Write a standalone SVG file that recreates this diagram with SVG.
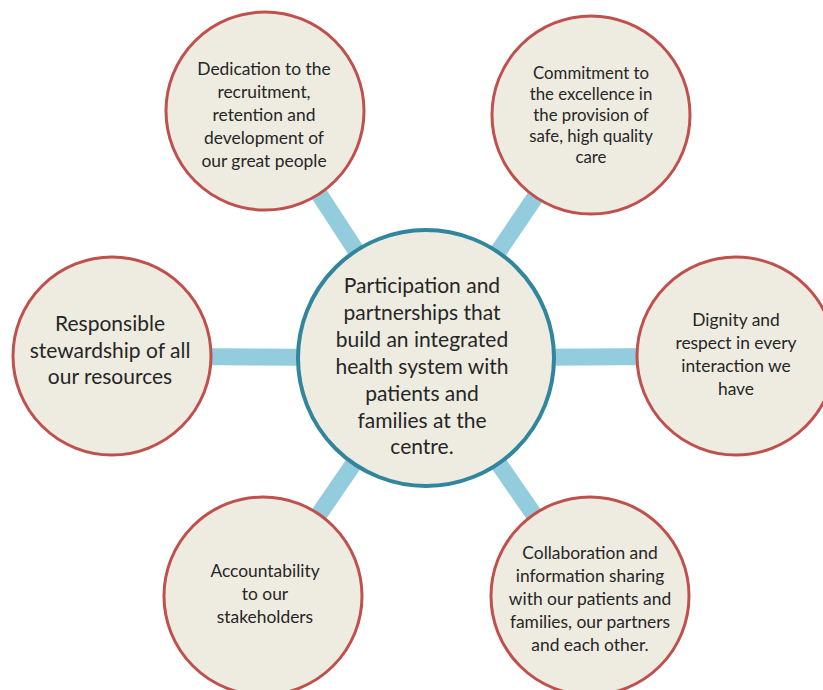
<svg xmlns="http://www.w3.org/2000/svg" width="823" height="690" viewBox="0 0 823 690">
<style>
.c{fill:#EEECE1;stroke:#C0504D;stroke-width:3}
.m{fill:#EEECE1;stroke:#31859C;stroke-width:4}
.k{stroke:#93CDDD;stroke-width:17;fill:none}
text{font-family:Lato,"Open Sans",sans-serif;fill:#262626;text-anchor:middle}
.s{font-size:17.4px}
.t{font-size:16.8px}
.l{font-size:21px}
</style>
<rect width="823" height="690" fill="#FFFFFF"/>
<g id="connectors">
<line class="k" x1="426" y1="358" x2="265" y2="111"/>
<line class="k" x1="426" y1="358" x2="591" y2="115"/>
<line class="k" x1="426" y1="358" x2="112" y2="356"/>
<line class="k" x1="426" y1="358" x2="736" y2="356"/>
<line class="k" x1="426" y1="358" x2="263" y2="596"/>
<line class="k" x1="426" y1="358" x2="590" y2="596"/>
</g>
<g id="node-dedication">
<circle class="c" cx="265" cy="111" r="99"/>
<text class="s" x="264"><tspan x="264" y="75">Dedication to the</tspan><tspan x="264" y="98">recruitment,</tspan><tspan x="264" y="121">retention and</tspan><tspan x="264" y="144">development of</tspan><tspan x="264" y="167">our great people</tspan></text>
</g>
<g id="node-commitment">
<circle class="c" cx="591" cy="115" r="99"/>
<text class="t" x="591"><tspan x="591" y="79">Commitment to</tspan><tspan x="591" y="100">the excellence in</tspan><tspan x="591" y="121">the provision of</tspan><tspan x="591" y="142">safe, high quality</tspan><tspan x="591" y="163">care</tspan></text>
</g>
<g id="node-stewardship">
<circle class="c" cx="112" cy="356" r="99"/>
<text class="l" x="110"><tspan x="110" y="331">Responsible</tspan><tspan x="110" y="357.5">stewardship of all</tspan><tspan x="110" y="384">our resources</tspan></text>
</g>
<g id="node-dignity">
<circle class="c" cx="736" cy="356" r="99"/>
<text class="s" x="736"><tspan x="736" y="326">Dignity and</tspan><tspan x="736" y="349">respect in every</tspan><tspan x="736" y="372">interaction we</tspan><tspan x="736" y="395">have</tspan></text>
</g>
<g id="node-accountability">
<circle class="c" cx="263" cy="596" r="99"/>
<text class="s" x="265"><tspan x="265" y="577">Accountability</tspan><tspan x="265" y="600">to our</tspan><tspan x="265" y="623">stakeholders</tspan></text>
</g>
<g id="node-collaboration">
<circle class="c" cx="590" cy="596" r="99"/>
<text class="s" x="590"><tspan x="590" y="559">Collaboration and</tspan><tspan x="590" y="582">information sharing</tspan><tspan x="590" y="605">with our patients and</tspan><tspan x="590" y="628">families, our partners</tspan><tspan x="590" y="651">and each other.</tspan></text>
</g>
<g id="node-participation">
<circle class="m" cx="426" cy="358" r="128"/>
<text class="l" x="422"><tspan x="422" y="293">Participation and</tspan><tspan x="422" y="320">partnerships that</tspan><tspan x="422" y="347">build an integrated</tspan><tspan x="422" y="374">health system with</tspan><tspan x="422" y="401">patients and</tspan><tspan x="422" y="428">families at the</tspan><tspan x="422" y="454">centre.</tspan></text>
</g>
</svg>
